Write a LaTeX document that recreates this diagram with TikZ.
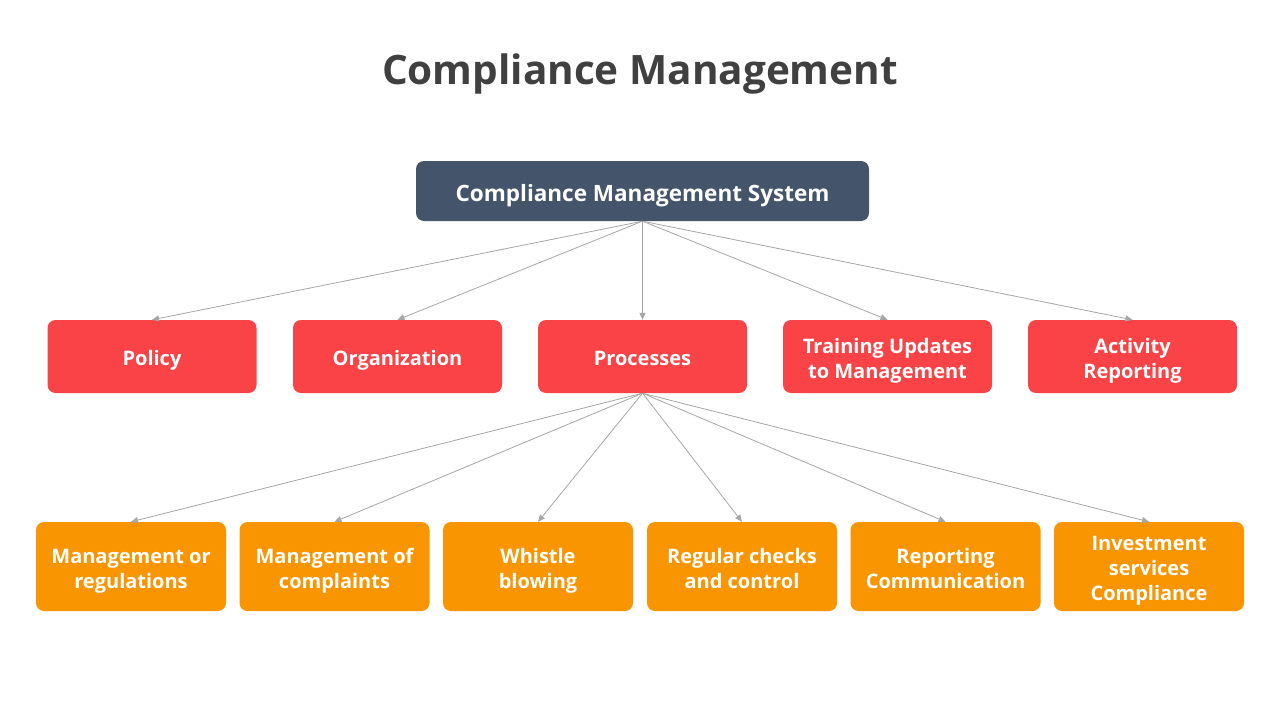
\documentclass[tikz,border=0pt]{standalone}
\usepackage{fontspec}
\setmainfont{Open Sans}
\usetikzlibrary{arrows.meta}
\definecolor{titlegray}{HTML}{404040}
\definecolor{slate}{HTML}{44546A}
\definecolor{redbox}{HTML}{F94346}
\definecolor{orangebox}{HTML}{F89500}
\definecolor{linegray}{HTML}{A6A6A6}
\newcommand{\fl}{\rule[-6pt]{0pt}{\capH}}
\tikzset{
  capcenter/.style={execute at begin node={\def\capH{#1}\rule[-6pt]{0pt}{#1}}, execute at end node={\rule[-6pt]{0pt}{0pt}}},
  box/.style={rounded corners=8pt, text=white, align=center, inner sep=0pt,
    font=\bfseries\fontsize{20}{25}\selectfont, capcenter=30pt},
  topbox/.style={box, fill=slate, minimum width=453pt, minimum height=60pt,
    font=\bfseries\fontsize{22.5}{27}\selectfont, capcenter=32pt},
  redb/.style={box, fill=redbox, minimum width=209pt, minimum height=73pt},
  orangeb/.style={box, fill=orangebox, minimum width=190pt, minimum height=89pt},
  conn/.style={draw=linegray, line width=0.8pt, -{Triangle[length=7pt,width=6pt]}}
}
\begin{document}
\begin{tikzpicture}[x=1pt,y=-1pt]
\useasboundingbox (0,0) rectangle (1280,720);
\node[text=titlegray, inner sep=0pt, font=\bfseries\fontsize{40.5}{46}\selectfont, capcenter=45pt] (title) at (640,70) {Compliance Management};
\node[topbox] (cms) at (642.5,191) {Compliance Management System};
\node[redb] (policy) at (152,356.5) {Policy};
\node[redb] (org) at (397.5,356.5) {Organization};
\node[redb] (proc) at (642.5,356.5) {Processes};
\node[redb] (train) at (887.5,356.5) {\fl Training Updates\\to Management};
\node[redb] (act) at (1132.5,356.5) {\fl Activity\\Reporting};
\node[orangeb] (o1) at (131,566.5) {\fl Management or\\regulations};
\node[orangeb] (o2) at (334.5,566.5) {\fl Management of\\complaints};
\node[orangeb] (o3) at (538,566.5) {\fl Whistle\\blowing};
\node[orangeb] (o4) at (742,566.5) {\fl Regular checks\\and control};
\node[orangeb] (o5) at (945.5,566.5) {\fl Reporting\\Communication};
\node[orangeb] (o6) at (1149,566.5) {\fl Investment\\services\\Compliance};
\foreach \t in {policy,org,proc,train,act}
  \draw[conn] (cms.south) -- (\t.north);
\foreach \t in {o1,o2,o3,o4,o5,o6}
  \draw[conn] (proc.south) -- (\t.north);
\end{tikzpicture}
\end{document}
